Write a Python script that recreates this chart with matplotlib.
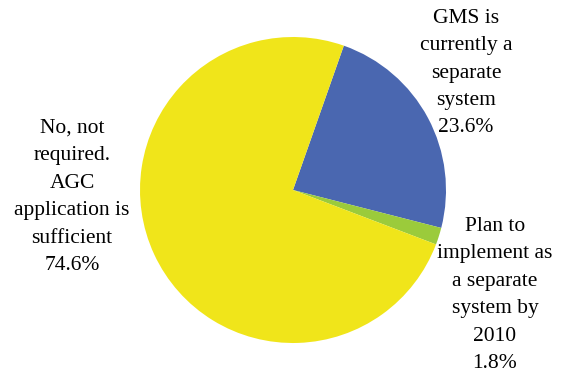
import matplotlib
matplotlib.use("Agg")
import matplotlib.pyplot as plt

labels = ["GMS is\ncurrently a\nseparate\nsystem\n23.6%",
          "Plan to\nimplement as\na separate\nsystem by\n2010\n1.8%",
          "No, not\nrequired.\nAGC\napplication is\nsufficient\n74.6%"]
values = [23.6, 1.8, 74.6]
colors = ["#4A67B0", "#9BCB3B", "#F0E51A"]

W, H = 565, 374
fig = plt.figure(figsize=(W/100, H/100), dpi=100)
ax = fig.add_axes([0, 0, 1, 1])

cx, cy, r = 293, 184, 153
ax.pie(values, colors=colors, startangle=70.6, counterclock=False,
       center=(cx, cy), radius=r, frame=True,
       wedgeprops=dict(linewidth=0))
ax.set_xlim(0, W)
ax.set_ylim(0, H)
ax.set_aspect("equal")
ax.axis("off")

label_pos = [(466, 301), (495, 79), (72, 177)]
for lab, (x, y) in zip(labels, label_pos):
    ax.text(x, y, lab, ha="center", va="center", fontsize=15.5,
            family="Liberation Serif", linespacing=1.6)

fig.savefig("out.png", dpi=100)
